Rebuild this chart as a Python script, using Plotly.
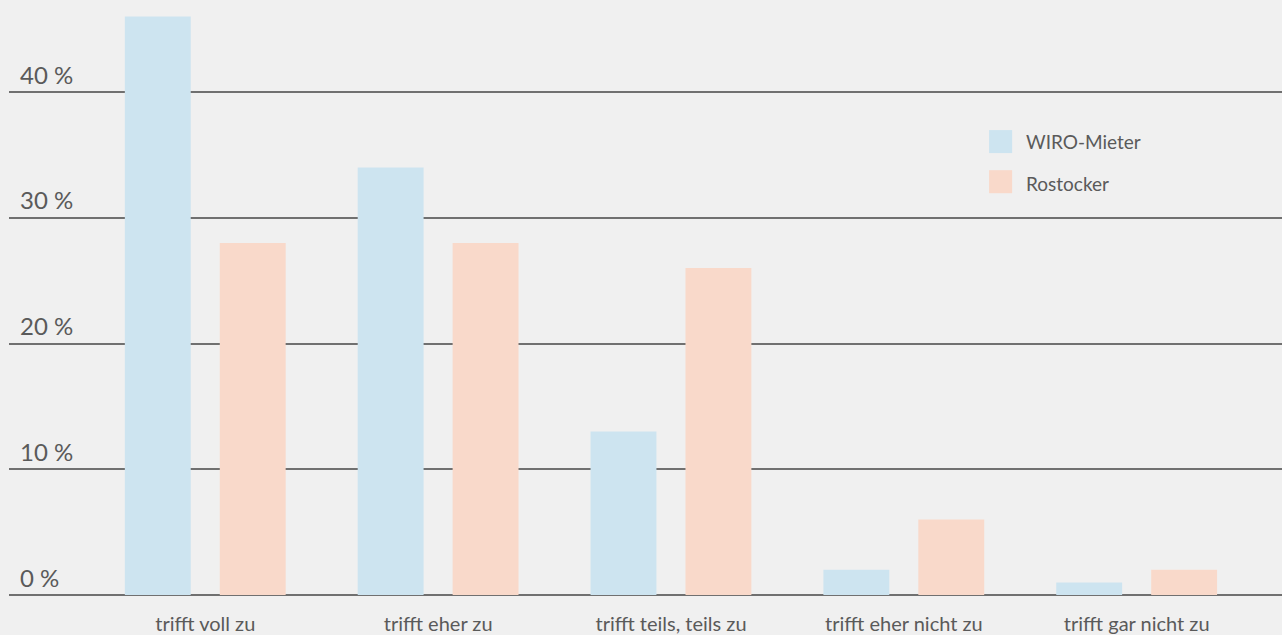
import plotly.graph_objects as go

categories = ["trifft voll zu", "trifft eher zu", "trifft teils, teils zu", "trifft eher nicht zu", "trifft gar nicht zu"]
series_names = ["WIRO-Mieter", "Rostocker"]
wiro_values = [46, 34, 13, 2, 1]
rostocker_values = [28, 28, 26, 6, 2]
y_ticks = [0, 10, 20, 30, 40]
y_tick_labels = ["0 %", "10 %", "20 %", "30 %", "40 %"]

colors = ["#cde4f0", "#f9d9ca"]
font_family = "Lato, 'Open Sans', sans-serif"
text_color = "#5a5a5a"

fig = go.Figure()
fig.add_trace(go.Bar(x=categories, y=wiro_values, name=series_names[0],
                     marker=dict(color=colors[0], line=dict(width=0)),
                     width=0.283, offset=-0.3455, showlegend=False))
fig.add_trace(go.Bar(x=categories, y=rostocker_values, name=series_names[1],
                     marker=dict(color=colors[1], line=dict(width=0)),
                     width=0.283, offset=0.0622, showlegend=False))

# custom legend (large square swatches)
leg_y = [(0.788, 0.749, 0.768), (0.720, 0.681, 0.698)]
shapes = []
annotations = []
for i, name in enumerate(series_names):
    y1, y0, yt = leg_y[i]
    shapes.append(dict(type="rect", xref="paper", yref="paper",
                       x0=0.7699, x1=0.7880, y0=y0, y1=y1,
                       fillcolor=colors[i], line=dict(width=0), layer="above"))
    annotations.append(dict(text=name, xref="paper", yref="paper", x=0.7975, y=yt,
                            xanchor="left", yanchor="middle", showarrow=False,
                            font=dict(size=19, color=text_color, family=font_family)))

fig.update_layout(
    width=1282, height=635,
    margin=dict(l=9, r=0, t=5, b=40),
    paper_bgcolor="#f0f0f0", plot_bgcolor="#f0f0f0",
    barmode="group",
    shapes=shapes, annotations=annotations,
    font=dict(family=font_family, color=text_color),
    xaxis=dict(range=[-0.843, 4.624], showgrid=False, zeroline=False, showline=False,
               ticks="outside", ticklen=11, tickcolor="rgba(0,0,0,0)",
               tickfont=dict(size=20, color=text_color, family=font_family)),
    yaxis=dict(range=[0, 46.92], tickvals=y_ticks, ticktext=y_tick_labels,
               ticklabelposition="inside top", ticklabelstandoff=8,
               showgrid=True, gridcolor="#707070", gridwidth=1.5,
               zeroline=True, zerolinecolor="#707070", zerolinewidth=1.5, showline=False,
               tickfont=dict(size=24, color=text_color, family=font_family)),
)

fig.write_html("out.html")
